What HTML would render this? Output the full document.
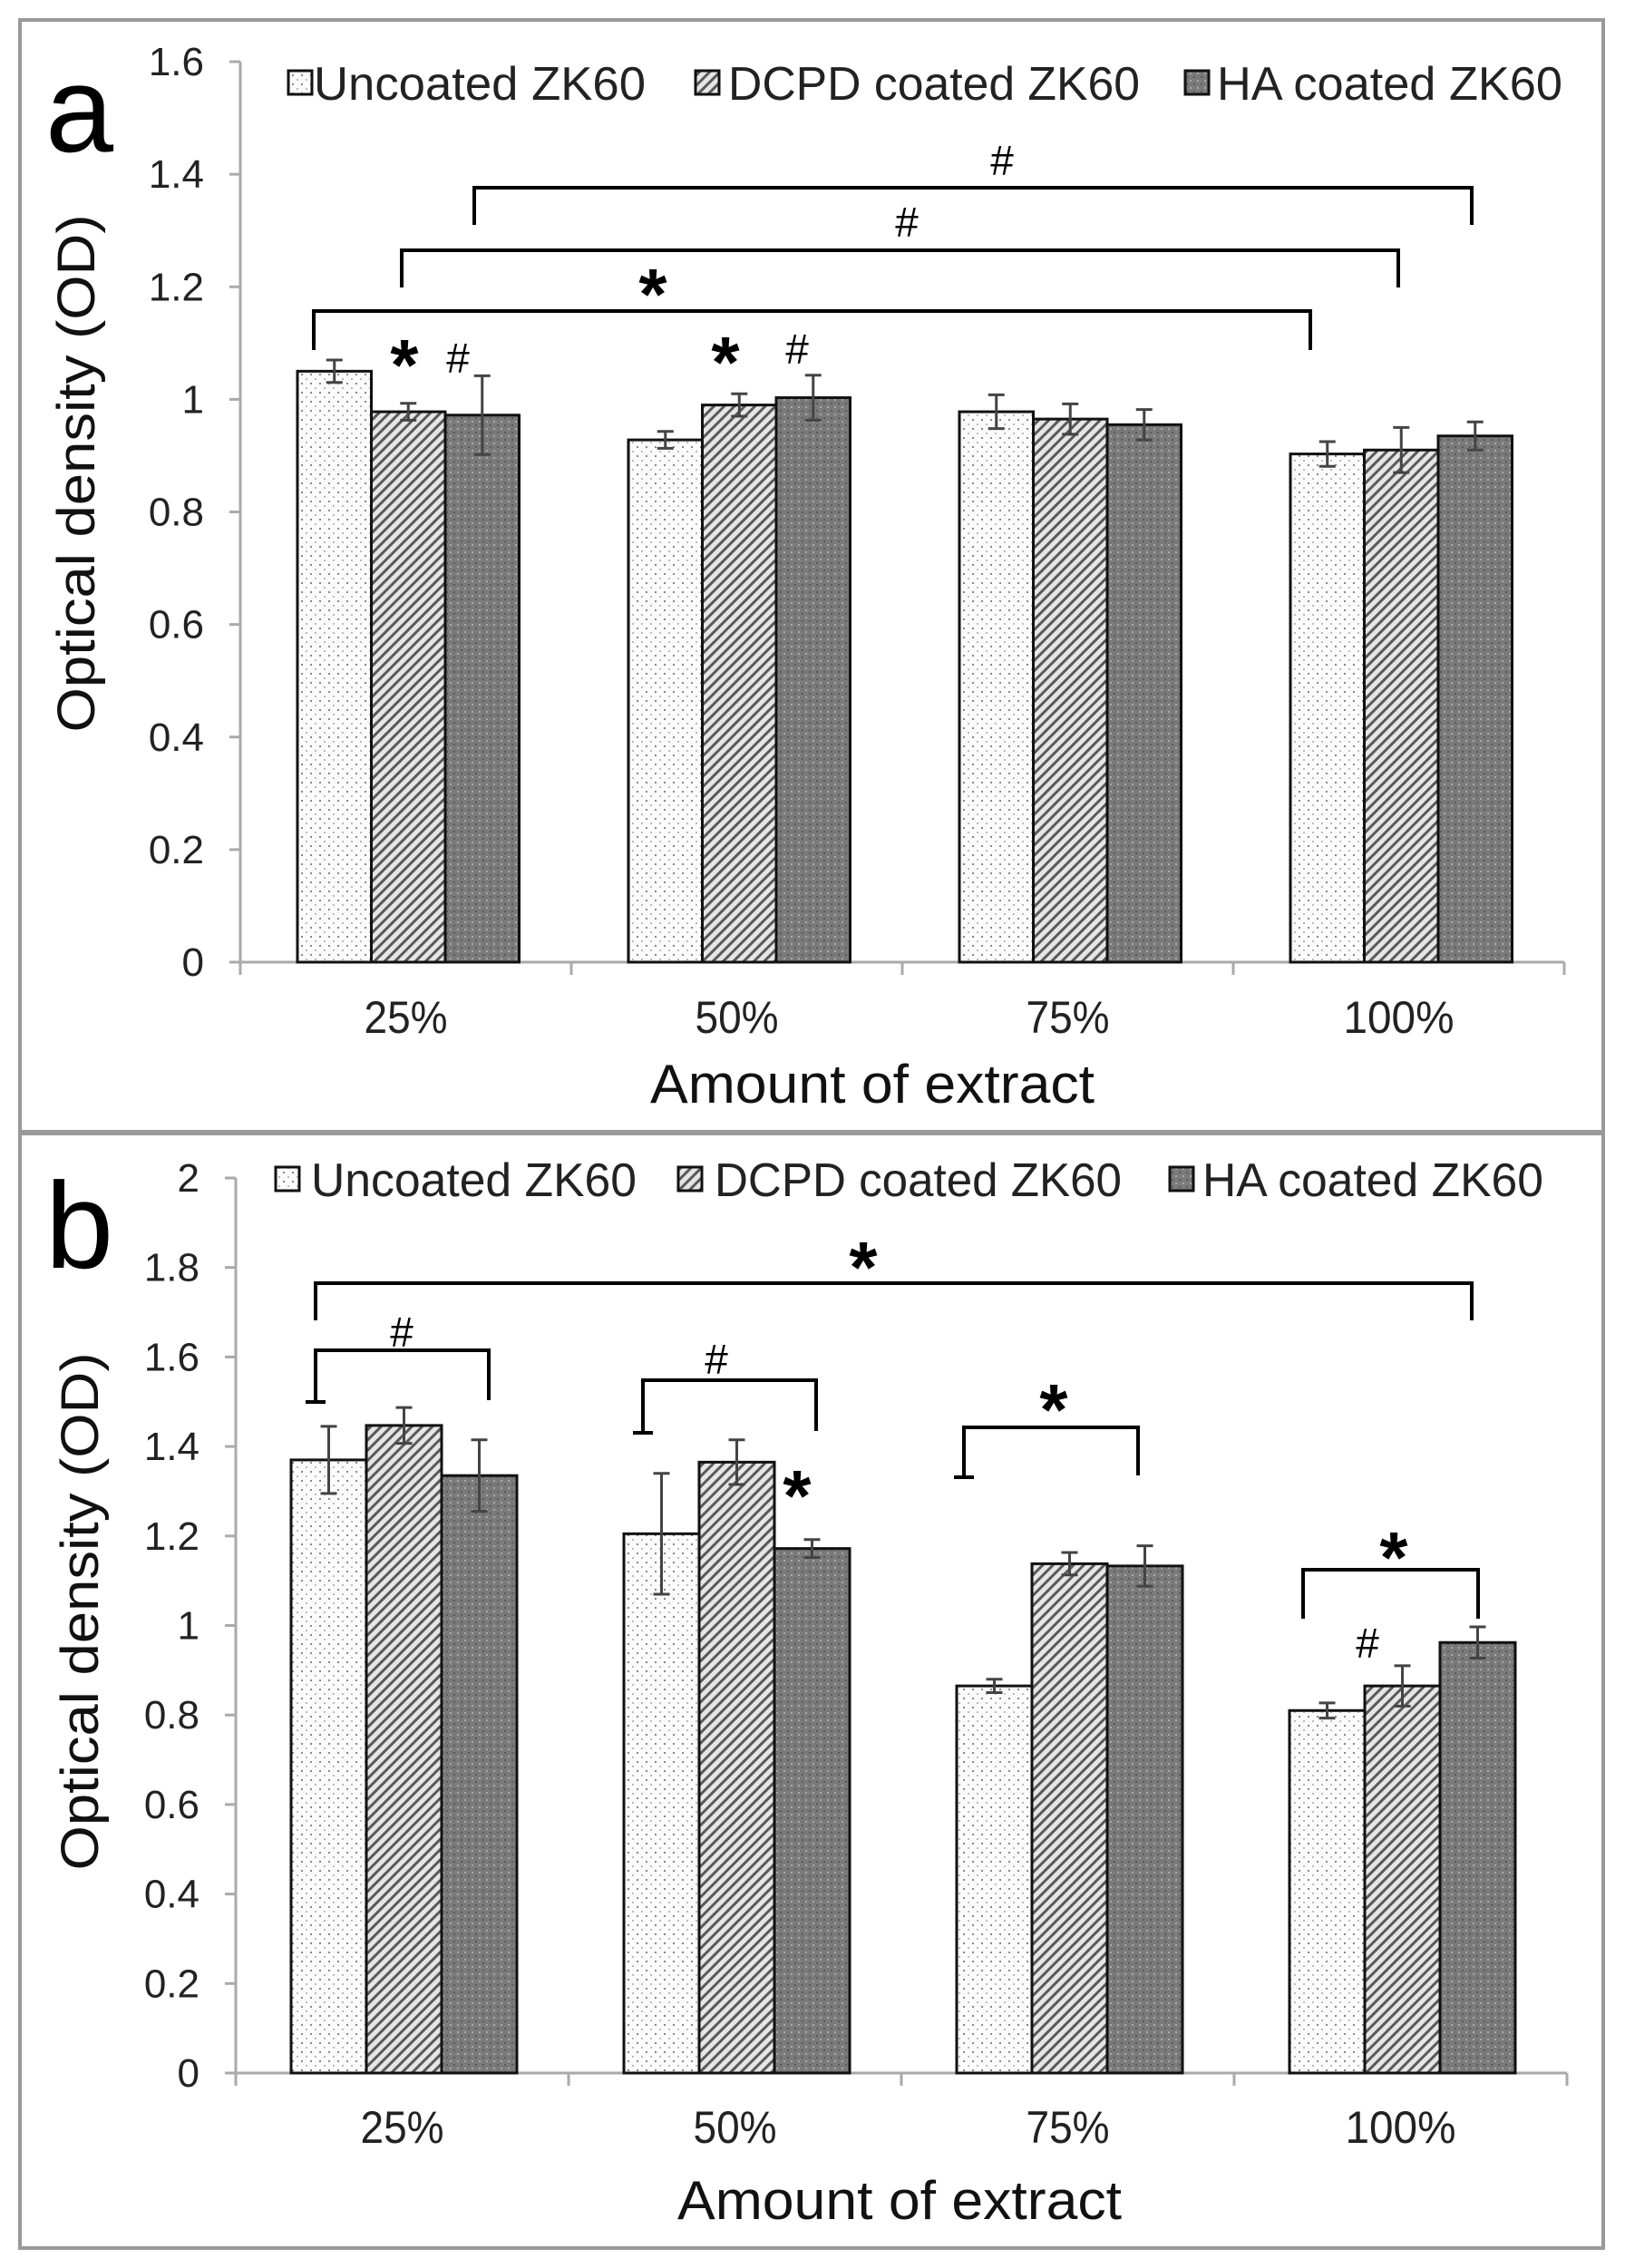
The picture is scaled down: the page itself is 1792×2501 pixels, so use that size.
<!DOCTYPE html>
<html><head><meta charset="utf-8"><style>
html,body{margin:0;padding:0;background:#fff;}
svg{display:block;}
text{font-family:"Liberation Sans",Arial,sans-serif;}
</style></head><body>
<svg id="fig" width="1792" height="2501" viewBox="0 0 1792 2501" xmlns="http://www.w3.org/2000/svg">
<defs>
<pattern id="pUn" patternUnits="userSpaceOnUse" width="10" height="10">
<rect width="10" height="10" fill="#fbfbfb"/><rect x="2" y="2" width="2" height="2" fill="#888"/><rect x="7" y="7" width="2" height="2" fill="#bbb"/>
</pattern>
<pattern id="pDc" patternUnits="userSpaceOnUse" width="8" height="8" patternTransform="rotate(45)">
<rect width="8" height="8" fill="#e6e6e6"/><rect width="3" height="8" fill="#5a5a5a"/>
</pattern>
<pattern id="pHa" patternUnits="userSpaceOnUse" width="8" height="8">
<rect width="8" height="8" fill="#7a7a7a"/><rect x="0" y="0" width="2" height="2" fill="#aaa"/><rect x="4" y="4" width="2" height="2" fill="#5a5a5a"/>
</pattern>
</defs>
<rect x="22" y="22" width="1746" height="1226" fill="none" stroke="#999" stroke-width="4"/>
<rect x="22" y="1250" width="1746" height="1229" fill="none" stroke="#999" stroke-width="4"/>
<g id="ga"></g>
<g id="gb"></g>
</svg>
<script>
const categories = ["25%", "50%", "75%", "100%"];
const seriesNames = ["Uncoated ZK60", "DCPD coated ZK60", "HA coated ZK60"];
const aUncoated = [1.05, 0.928, 0.978, 0.903];
const aUncoatedErr = [0.02, 0.015, 0.03, 0.022];
const aDcpd = [0.978, 0.99, 0.965, 0.91];
const aDcpdErr = [0.015, 0.02, 0.027, 0.04];
const aHa = [0.972, 1.003, 0.955, 0.935];
const aHaErr = [0.07, 0.04, 0.027, 0.025];
const aTicks = ["0", "0.2", "0.4", "0.6", "0.8", "1", "1.2", "1.4", "1.6"];
const bUncoated = [1.37, 1.205, 0.865, 0.81];
const bUncoatedErr = [0.075, 0.135, 0.015, 0.017];
const bDcpd = [1.447, 1.365, 1.138, 0.865];
const bDcpdErr = [0.04, 0.05, 0.025, 0.045];
const bHa = [1.335, 1.172, 1.133, 0.962];
const bHaErr = [0.08, 0.02, 0.045, 0.035];
const bTicks = ["0", "0.2", "0.4", "0.6", "0.8", "1", "1.2", "1.4", "1.6", "1.8", "2"];

const NS = "http://www.w3.org/2000/svg";
function mk(parent, tag, attrs, txt) {
  const e = document.createElementNS(NS, tag);
  for (const k in attrs) e.setAttribute(k, attrs[k]);
  if (txt !== undefined) e.textContent = txt;
  parent.appendChild(e);
  return e;
}
const fills = ["url(#pUn)", "url(#pDc)", "url(#pHa)"];

function panel(g, cfg) {
  const yS = v => cfg.y0 - v * cfg.pu;
  const xCat = i => cfg.ax + i * cfg.cat;
  const xBar = (i, s) => xCat(i) + cfg.off + s * cfg.bw;
  // axes
  let e = mk(g, "line", {x1: cfg.ax, y1: yS(cfg.max), x2: cfg.ax, y2: cfg.y0, stroke: "#aaa", "stroke-width": 3});
  
  
  e = mk(g, "line", {x1: cfg.ax, y1: cfg.y0, x2: xCat(4), y2: cfg.y0, stroke: "#aaa", "stroke-width": 3});
  
  
  cfg.ticks.forEach((t, i) => {
    const v = i * 0.2, y = yS(v);
    mk(g, "line", {x1: cfg.ax - 12, y1: y, x2: cfg.ax, y2: y, stroke: "#aaa", "stroke-width": 3});
    const tx = mk(g, "text", {x: cfg.ax - 40, y: y + 15, "font-size": 44, "text-anchor": "end", fill: "#222"}, t);
    
    
  });
  for (let i = 0; i <= 4; i++) mk(g, "line", {x1: xCat(i), y1: cfg.y0, x2: xCat(i), y2: cfg.y0 + 14, stroke: "#aaa", "stroke-width": 3});
  categories.forEach((c, i) => {
    const tx = mk(g, "text", {x: xCat(i) + cfg.cat / 2, y: cfg.catY, "font-size": 50, "text-anchor": "middle", fill: "#222", textLength: c.length === 4 ? 122 : 92, lengthAdjust: "spacingAndGlyphs"}, c);
    
    
  });
  // bars
  cfg.series.forEach((arr, s) => {
    arr.forEach((v, i) => {
      const x = xBar(i, s);
      const r = mk(g, "rect", {x: x, y: yS(v), width: cfg.bw, height: cfg.y0 - yS(v), fill: fills[s], stroke: "#111", "stroke-width": 3});
      
      
      const er = cfg.errs[s][i], cx = x + cfg.bw / 2;
      const el = mk(g, "path", {d: `M${cx},${yS(v + er)}V${yS(v - er)}M${cx - 9},${yS(v + er)}h18M${cx - 9},${yS(v - er)}h18`, stroke: "#444", "stroke-width": 3, fill: "none"});
      
      
    });
  });
  // legend
  cfg.legend.forEach((L, s) => {
    const b = mk(g, "rect", {x: L[0], y: cfg.legY - 13, width: 26, height: 26, fill: fills[s], stroke: "#111", "stroke-width": 3});
    
    
    const t = mk(g, "text", {x: L[1], y: cfg.legY + 19, "font-size": 52, fill: "#222", textLength: L[2], lengthAdjust: "spacingAndGlyphs"}, seriesNames[s]);
    
    
  });
  // titles
  let t = mk(g, "text", {x: 0, y: 0, "font-size": 58, "text-anchor": "middle", fill: "#111", textLength: 571, lengthAdjust: "spacingAndGlyphs", transform: `translate(${cfg.ytX},${cfg.ytY}) rotate(-90)`}, "Optical density (OD)");
  
  
  t = mk(g, "text", {x: cfg.xtX, y: cfg.xtY, "font-size": 60, "text-anchor": "middle", fill: "#111", textLength: 490, lengthAdjust: "spacingAndGlyphs"}, "Amount of extract");
  
  
  t = mk(g, "text", {x: cfg.letter[0], y: cfg.letter[1], "font-size": 135, fill: "#000"}, cfg.letter[2]);
  
  
  // brackets: [x1, x2, ybar, yLeftEnd, yRightEnd, leftCap]
  cfg.brackets.forEach(B => {
    let d = `M${B[0]},${B[3]}V${B[2]}H${B[1]}V${B[4]}`;
    if (B[5]) d += `M${B[0] - 11},${B[3]}h22`;
    const p = mk(g, "path", {d: d, stroke: "#000", "stroke-width": 4, fill: "none"});
    
    
  });
  cfg.marks.forEach(M => {
    const star = M[2] === "*";
    const m = mk(g, "text", {x: M[0], y: M[1], "font-size": star ? 80 : 46, "font-weight": star ? "bold" : "normal", "text-anchor": "middle", fill: "#000"}, M[2]);
    
    
  });
}

panel(document.getElementById("ga"), {
  ax: 265, cat: 365, off: 63, bw: 81.5, y0: 1061, pu: 620.6, max: 1.6, ticks: aTicks,
  series: [aUncoated, aDcpd, aHa], errs: [aUncoatedErr, aDcpdErr, aHaErr],
  catY: 1139, legY: 91,
  legend: [[318, 346, 366], [767, 803, 454], [1307, 1342, 381]],
  ytX: 104, ytY: 522, xtX: 962, xtY: 1216, letter: [50, 167, "a"],
  brackets: [[523, 1623, 207, 248, 248, 0], [443, 1542, 276, 317, 317, 0], [346, 1445, 343, 386, 386, 0]],
  marks: [[1105, 193, "#"], [1000, 261, "#"], [720, 352, "*"], [446, 430, "*"], [505, 411, "#"], [800, 427, "*"], [879, 401, "#"]]
});
panel(document.getElementById("gb"), {
  ax: 260, cat: 367, off: 61, bw: 83, y0: 2286, pu: 493.5, max: 2, ticks: bTicks,
  series: [bUncoated, bDcpd, bHa], errs: [bUncoatedErr, bDcpdErr, bHaErr],
  catY: 2363, legY: 1300,
  legend: [[304, 343, 359], [748, 788, 449], [1290, 1326, 376]],
  ytX: 108, ytY: 1777, xtX: 992, xtY: 2447, letter: [50, 1398, "b"],
  brackets: [[348, 1623, 1415, 1456, 1456, 0], [348, 539, 1489, 1546, 1544, 1], [709, 900, 1522, 1580, 1578, 1], [1063, 1255, 1574, 1629, 1627, 1], [1437, 1630, 1731, 1785, 1785, 0]],
  marks: [[952, 1425, "*"], [443, 1485, "#"], [790, 1515, "#"], [1162, 1582, "*"], [1537, 1745, "*"], [879, 1677, "*"], [1508, 1828, "#"]]
});
</script>
</body></html>
